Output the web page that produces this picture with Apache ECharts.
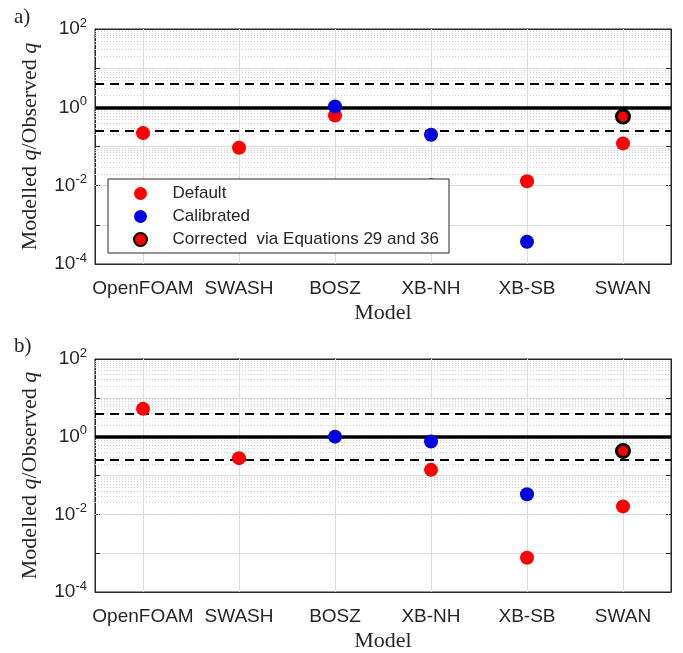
<!DOCTYPE html>
<html>
<head>
<meta charset="utf-8">
<script src="https://cdn.jsdelivr.net/npm/echarts@6/dist/echarts.min.js"></script>
<style>
html,body{margin:0;padding:0;background:#fff;}
#chart{width:683px;height:653px;}
</style>
</head>
<body>
<div id="chart"></div>
<script>
// ---- data ----
const categories = ['OpenFOAM', 'SWASH', 'BOSZ', 'XB-NH', 'XB-SB', 'SWAN'];
const seriesNames = ['Default', 'Calibrated', 'Corrected  via Equations 29 and 36'];
// panel a
const aDefault    = [0.22, 0.093, 0.62, 0.0103, 0.013, 0.12];
const aCalibrated = [null, null, 1.05, 0.20, 0.00037, null];
const aCorrected  = [null, null, null, null, null, 0.58];
// panel b
const bDefault    = [5.2, 0.28, null, 0.14, 0.00076, 0.016];
const bCalibrated = [null, null, 1.0, 0.75, 0.033, null];
const bCorrected  = [null, null, null, null, null, 0.43];
// reference lines (ratio = 1, factor-of-4 band)
const refSolid  = [1];
const refDashed = [4, 0.25];
// y axis range
const yMin = 1e-4, yMax = 1e2;

// ---- chart ----
const chart = echarts.init(document.getElementById('chart'), null, {renderer: 'canvas'});
const SANS = 'Liberation Sans';
const SERIF = 'Liberation Serif';
const grids = [
  {left: 95, top: 29, width: 576, height: 235},
  {left: 95, top: 359, width: 576, height: 234}
];

function pairs(arr) {
  const out = [];
  arr.forEach((v, i) => { if (v != null) out.push([i, v]); });
  return out;
}
// minor grid values (2..9 x 10^n)
const minorVals = [];
for (let e = -4; e < 2; e++) for (let k = 2; k <= 9; k++) minorVals.push(k * Math.pow(10, e));

const xAxes = [], yAxes = [], series = [];
grids.forEach((g, gi) => {
  xAxes.push({
    type: 'category', gridIndex: gi, data: categories, boundaryGap: true,
    axisLine: {lineStyle: {color: '#262626', width: 1}},
    axisTick: {show: true, alignWithLabel: true, inside: true, length: 5, lineStyle: {color: '#262626'}},
    axisLabel: {color: '#262626', fontFamily: SANS, fontSize: 19, margin: 15, interval: 0},
    splitLine: {show: false},
    name: 'Model', nameLocation: 'middle', nameGap: 38,
    nameTextStyle: {fontFamily: SERIF, fontSize: 22, color: '#262626'}
  });
  xAxes.push({
    type: 'category', gridIndex: gi, data: categories, boundaryGap: true, position: 'top',
    axisLine: {lineStyle: {color: '#262626', width: 1}},
    axisTick: {show: true, alignWithLabel: true, inside: true, length: 5, lineStyle: {color: '#262626'}},
    axisLabel: {show: false}, splitLine: {show: false}
  });
  yAxes.push({
    type: 'log', logBase: 10, gridIndex: gi, min: yMin, max: yMax, splitNumber: 6,
    axisLine: {show: true, lineStyle: {color: '#262626', width: 1}},
    axisTick: {show: true, inside: true, length: 5, lineStyle: {color: '#262626'}},
    axisLabel: {
      margin: 8,
      formatter: function (v) {
        const e = Math.round(Math.log10(v));
        if (e % 2 !== 0) return '';
        return '{b|10}{s|' + e + '}';
      },
      rich: {
        b: {fontFamily: SANS, fontSize: 19, color: '#262626'},
        s: {fontFamily: SANS, fontSize: 13, color: '#262626', padding: [0, 0, 12, 0]}
      }
    },
    splitLine: {show: true, lineStyle: {color: '#dcdcdc', width: 1}},
    name: '{n|Modelled }{i|q}{n|/Observed }{i|q}', nameLocation: 'middle', nameGap: 54, nameRotate: 90,
    nameTextStyle: {
      rich: {
        n: {fontFamily: SERIF, fontSize: 22, color: '#262626'},
        i: {fontFamily: SERIF, fontSize: 22, fontStyle: 'italic', color: '#262626'}
      }
    }
  });
  yAxes.push({
    type: 'log', logBase: 10, gridIndex: gi, min: yMin, max: yMax, splitNumber: 6, position: 'right',
    axisLine: {show: true, lineStyle: {color: '#262626', width: 1}},
    axisTick: {show: true, inside: true, length: 5, lineStyle: {color: '#262626'}},
    axisLabel: {show: false}, splitLine: {show: false}
  });
  const xi = gi * 2, yi = gi * 2;
  // grid helper lines
  series.push({
    type: 'scatter', xAxisIndex: xi, yAxisIndex: yi, data: [], z: 1, silent: true,
    markLine: {
      silent: true, symbol: 'none', label: {show: false}, animation: false, z: 1,
      lineStyle: {color: '#cfcfcf', type: [1, 2], width: 1},
      data: minorVals.map(v => ({yAxis: v}))
    }
  });
  series.push({
    type: 'scatter', xAxisIndex: xi, yAxisIndex: yi, data: [], z: 1, silent: true,
    markLine: {
      silent: true, symbol: 'none', label: {show: false}, animation: false, z: 1,
      lineStyle: {color: '#dcdcdc', type: 'solid', width: 1},
      data: categories.map((c, i) => ({xAxis: i}))
    }
  });
  // reference lines
  series.push({
    type: 'scatter', xAxisIndex: xi, yAxisIndex: yi, data: [], z: 2, silent: true,
    markLine: {
      silent: true, symbol: 'none', label: {show: false}, animation: false, z: 2,
      lineStyle: {color: '#000000', type: 'solid', width: 3.5},
      data: refSolid.map(v => ({yAxis: v}))
    }
  });
  series.push({
    type: 'scatter', xAxisIndex: xi, yAxisIndex: yi, data: [], z: 2, silent: true,
    markLine: {
      silent: true, symbol: 'none', label: {show: false}, animation: false, z: 2,
      lineStyle: {color: '#000000', type: [9, 6], width: 1.8},
      data: refDashed.map(v => ({yAxis: v}))
    }
  });
  const sets = gi === 0 ? [aDefault, aCalibrated, aCorrected] : [bDefault, bCalibrated, bCorrected];
  series.push({
    name: seriesNames[0], type: 'scatter', xAxisIndex: xi, yAxisIndex: yi, z: 3,
    symbol: 'circle', symbolSize: 14, data: pairs(sets[0]),
    itemStyle: {color: '#ff0000', opacity: 1}
  });
  series.push({
    name: seriesNames[1], type: 'scatter', xAxisIndex: xi, yAxisIndex: yi, z: 3,
    symbol: 'circle', symbolSize: 14, data: pairs(sets[1]),
    itemStyle: {color: '#0000dd', opacity: 1}
  });
  series.push({
    name: seriesNames[2], type: 'scatter', xAxisIndex: xi, yAxisIndex: yi, z: 4,
    symbol: 'circle', symbolSize: 13, data: pairs(sets[2]),
    itemStyle: {color: '#ff0000', borderColor: '#000000', borderWidth: 3, opacity: 1}
  });
});

chart.setOption({
  animation: false,
  backgroundColor: '#ffffff',
  grid: grids.map(g => Object.assign({show: true, borderColor: '#262626', borderWidth: 1, backgroundColor: 'transparent'}, g)),
  xAxis: xAxes,
  yAxis: yAxes,
  graphic: [
    {type: 'text', left: 14, top: 7, style: {text: 'a)', fontFamily: SERIF, fontSize: 21, fill: '#262626'}},
    {type: 'text', left: 14, top: 336, style: {text: 'b)', fontFamily: SERIF, fontSize: 21, fill: '#262626'}}
  ],
  legend: {
    orient: 'vertical', left: 108, top: 179,
    backgroundColor: '#ffffff', borderColor: '#262626', borderWidth: 1,
    padding: [6, 10, 5, 25], itemGap: 6, itemWidth: 54, itemHeight: 13,
    icon: 'circle', selectedMode: false, z: 10,
    textStyle: {fontFamily: SANS, fontSize: 17, color: '#262626'},
    data: seriesNames
  },
  series: series
});
</script>
</body>
</html>
